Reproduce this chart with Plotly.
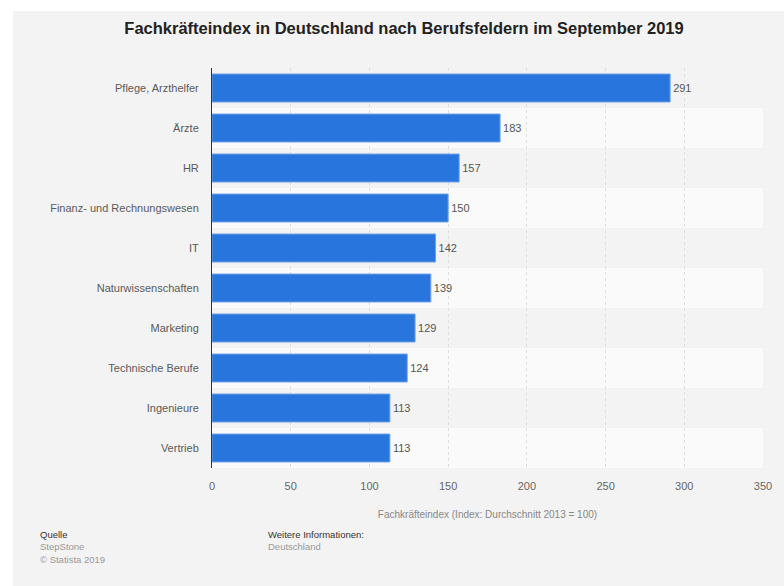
import plotly.graph_objects as go

# Data: skilled-worker index per occupational field (Sept 2019)
categories = [
    "Pflege, Arzthelfer", "Ärzte", "HR", "Finanz- und Rechnungswesen", "IT",
    "Naturwissenschaften", "Marketing", "Technische Berufe", "Ingenieure", "Vertrieb",
]
values = [291, 183, 157, 150, 142, 139, 129, 124, 113, 113]
x_ticks = [0, 50, 100, 150, 200, 250, 300, 350]

title_text = "Fachkräfteindex in Deutschland nach Berufsfeldern im September 2019"
x_title = "Fachkräfteindex (Index: Durchschnitt 2013 = 100)"

W, H = 784, 586
ML, MR, MT, MB = 212, 18, 68, 118
PW, PH = W - ML - MR, H - MT - MB

FONT = "Liberation Sans, Arial, Helvetica, sans-serif"
BAR = "#2876dd"
PANEL = "#f3f3f3"
BAND = "#fafafa"


def px_x(p):
    return (p - ML) / PW


def px_y(p):
    return (H - MB - p) / PH


fig = go.Figure(
    go.Bar(
        x=values,
        y=categories,
        orientation="h",
        marker=dict(color=BAR, line=dict(color="#6fa4ea", width=1)),
        text=[str(v) for v in values],
        textposition="outside",
        textfont=dict(family=FONT, size=11, color="#555555"),
        cliponaxis=False,
        width=0.7,
        hoverinfo="x+y",
    )
)

shapes = [
    # grey panel behind the whole chart
    dict(type="rect", xref="paper", yref="paper", layer="below",
         x0=px_x(12), x1=px_x(W + 5), y0=px_y(H + 5), y1=px_y(11),
         fillcolor=PANEL, line=dict(width=0)),
]
# lighter alternate row bands
for i in range(1, len(categories), 2):
    shapes.append(dict(type="rect", xref="paper", yref="y", layer="below",
                       x0=0, x1=1, y0=i - 0.5, y1=i + 0.5,
                       fillcolor=BAND, line=dict(width=0)))

footer = [
    ("Quelle", 37, 534, "#333333"),
    ("StepStone", 37, 546, "#999999"),
    ("© Statista 2019", 37, 559, "#999999"),
    ("Weitere Informationen:", 266, 534, "#333333"),
    ("Deutschland", 266, 546, "#999999"),
]
annotations = [
    dict(text=t, xref="paper", yref="paper", x=px_x(x), y=px_y(y),
         xanchor="left", yanchor="middle", showarrow=False,
         font=dict(family=FONT, size=9.5, color=c))
    for t, x, y, c in footer
]

fig.update_layout(
    width=W, height=H,
    margin=dict(l=ML, r=MR, t=MT, b=MB, pad=0),
    paper_bgcolor="white",
    plot_bgcolor="rgba(0,0,0,0)",
    showlegend=False,
    bargap=0.3,
    title=dict(text=title_text, xref="container", yref="container",
               x=404 / W, y=1 - 28 / H, xanchor="center", yanchor="middle",
               font=dict(family=FONT, size=16.5, color="#222222", weight="bold")),
    xaxis=dict(
        range=[0, 350], tickvals=x_ticks, showgrid=True,
        gridcolor="#dedede", griddash="dot", gridwidth=1,
        zeroline=False, showline=False,
        ticks="outside", ticklen=8, tickcolor="rgba(0,0,0,0)",
        tickfont=dict(family=FONT, size=11, color="#666666"),
        title=dict(text=x_title, standoff=19,
                   font=dict(family=FONT, size=10, color="#888888")),
        fixedrange=True,
    ),
    yaxis=dict(
        categoryorder="array", categoryarray=categories, autorange="reversed",
        showgrid=False, zeroline=False,
        showline=True, linecolor="#333333", linewidth=1,
        ticks="outside", ticklen=10, tickcolor="rgba(0,0,0,0)",
        tickfont=dict(family=FONT, size=11, color="#5a5a5a"),
        fixedrange=True,
    ),
    shapes=shapes,
    annotations=annotations,
)

fig.write_html("out.html", config={"displayModeBar": False})
